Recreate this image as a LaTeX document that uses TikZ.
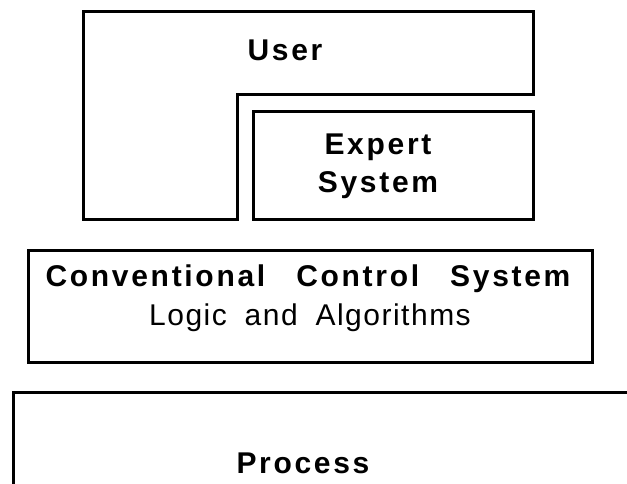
\documentclass[tikz,border=0pt]{standalone}
\usepackage{fontspec}
\setmainfont{Liberation Sans}
\tikzset{
  frame/.style={line width=3pt, line join=miter, line cap=rect},
  boldlbl/.style={font=\bfseries\fontsize{30}{38}\selectfont\addfontfeature{LetterSpace=9}, align=center, inner sep=0pt},
  reglbl/.style={font=\fontsize{30}{38}\selectfont\addfontfeature{LetterSpace=5}, align=center, inner sep=0pt}
}
\begin{document}
\begin{tikzpicture}[x=1pt,y=-1pt]
\useasboundingbox[fill=white] (0,0) rectangle (627,484);
% User L-shape
\coordinate (u1) at (83,12);
\coordinate (u2) at (533,12);
\coordinate (u3) at (533,95);
\coordinate (u4) at (237,95);
\coordinate (u5) at (237,220);
\coordinate (u6) at (83,220);
\draw[frame] (u1) -- (u2) -- (u3) -- (u4) -- (u5) -- (u6) -- cycle;
\node[boldlbl] (user) at (285,50) {User};
% Expert System
\draw[frame] (253,112) rectangle (533,220);
\node[boldlbl] (expert) at (378,166) {Expert\\System};
% Conventional Control System
\draw[frame] (28,250) rectangle (592,362);
\node[boldlbl] (ccs) at (308,279) {Conventional\hspace{20pt} Control\hspace{20pt} System};
\node[reglbl] (logic) at (310,318) {Logic\hspace{8pt} and\hspace{8pt} Algorithms};
% Process
\coordinate (p1) at (13,500);
\coordinate (p2) at (13,392);
\coordinate (p3) at (640,392);
\draw[frame] (p1) -- (p2) -- (p3);
\node[boldlbl] (process) at (303,463) {Process};
\end{tikzpicture}
\end{document}
